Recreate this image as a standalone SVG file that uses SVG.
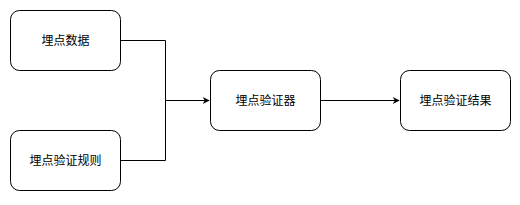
<svg xmlns="http://www.w3.org/2000/svg" width="520" height="205" viewBox="0 0 520 205">
<style>
.box{fill:#fff;stroke:#000;stroke-width:1}
.lbl{font-family:"Liberation Sans","Noto Sans CJK SC",sans-serif;font-size:12px;fill:#000;text-anchor:middle;dominant-baseline:central}
.edge{fill:none;stroke:#000;stroke-width:1}
</style>
<defs>
<marker id="arrow" viewBox="0 0 10 10" refX="9" refY="5" markerWidth="8" markerHeight="7" markerUnits="userSpaceOnUse" orient="auto">
<path d="M0,0 L10,5 L0,10 L3,5 Z" fill="#000" stroke="none"/>
</marker>
</defs>
<rect width="520" height="205" fill="#fff"/>
<g id="edges">
<path class="edge" d="M120.5,40.5 H165.5 V100.5 H209" marker-end="url(#arrow)"/>
<path class="edge" d="M120.5,160.5 H165.5 V100.5"/>
<path class="edge" d="M320.5,100.5 H399" marker-end="url(#arrow)"/>
</g>
<g id="n1"><rect class="box" x="10.5" y="10.5" width="110" height="60" rx="9"/><text class="lbl" x="65.5" y="40.5">埋点数据</text></g>
<g id="n2"><rect class="box" x="10.5" y="130.5" width="110" height="60" rx="9"/><text class="lbl" x="65.5" y="160.5">埋点验证规则</text></g>
<g id="n3"><rect class="box" x="210.5" y="70.5" width="110" height="60" rx="9"/><text class="lbl" x="265.5" y="100.5">埋点验证器</text></g>
<g id="n4"><rect class="box" x="400.5" y="70.5" width="110" height="60" rx="9"/><text class="lbl" x="455.5" y="100.5">埋点验证结果</text></g>
</svg>
